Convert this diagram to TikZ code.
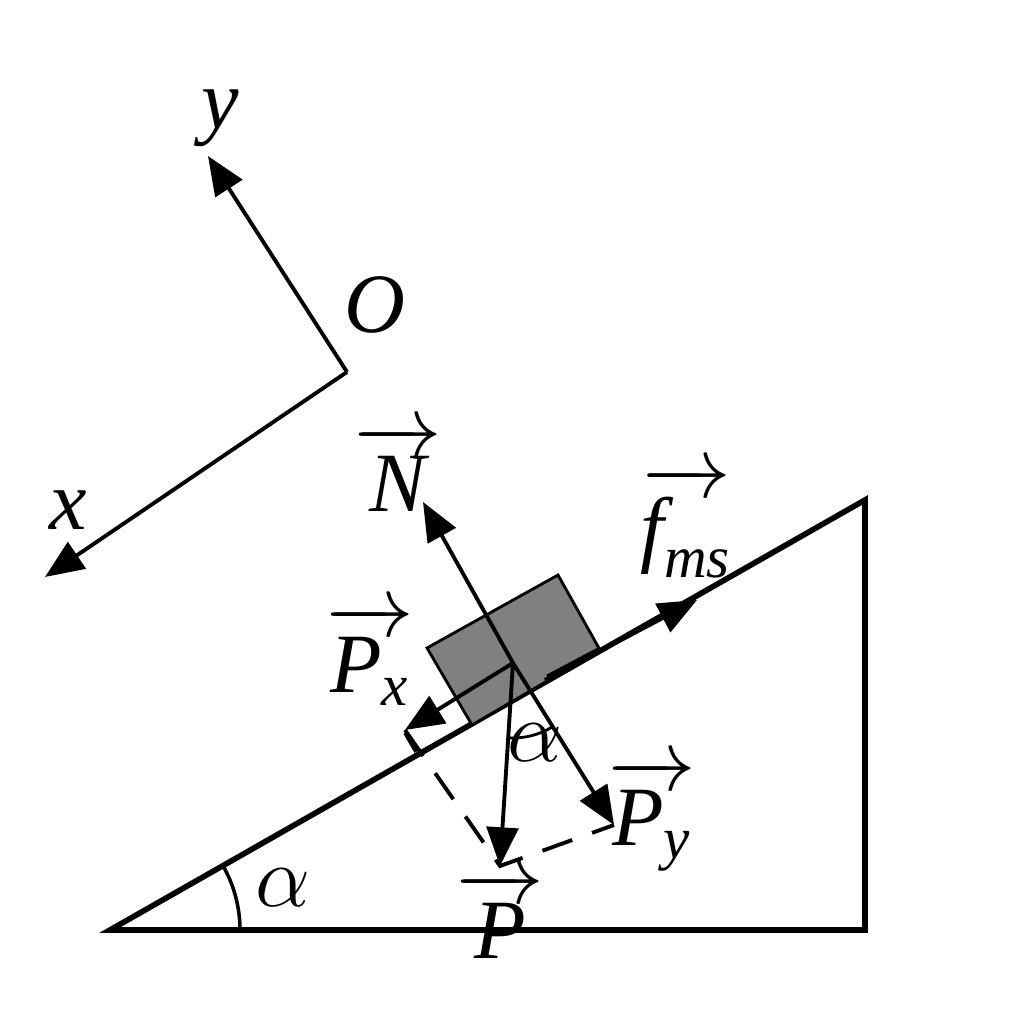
\documentclass[tikz,border=0pt]{standalone}
\usepackage{amsmath}
\usepackage{fontspec}
\setmainfont{Liberation Serif}
\usetikzlibrary{arrows.meta}
\newcommand{\iv}[1]{\textit{#1}}
\begin{document}
\begin{tikzpicture}[x=0.01cm,y=-0.01cm,
  vec/.style={line width=1.1pt,-{Triangle[length=11pt,width=9pt]}},
  lbl/.style={font=\itshape\fontsize{24}{24}\selectfont},
  dsh/.style={line width=1.1pt,dash pattern=on 9pt off 6pt}]
\useasboundingbox (0,0) rectangle (1024,1013);
% axes
\coordinate (O) at (347,372);
\coordinate (Y) at (208,156);
\coordinate (X) at (45,577);
\draw[vec] (O) -- (Y);
\draw[vec] (O) -- (X);
\node[lbl] (lo) at (375,305) {O};
\node[lbl] (ly) at (220,118) {y};
\node[lbl] (lx) at (68,510) {x};
% incline
\coordinate (A) at (110,930);
\coordinate (B) at (865,930);
\coordinate (C) at (865,500);
\draw[line width=1.6pt,line join=miter] (A) -- (B) -- (C) -- cycle;
\draw[line width=1pt] (240,930) arc[start angle=0,end angle=-29.7,radius=130];
\node[lbl] (la) at (283,888) {$\alpha$};
% block
\draw[fill=gray,line width=0.8pt] (427,648) -- (558,575) -- (600,650) -- (472,725) -- cycle;
\coordinate (G) at (513,663);
\coordinate (Nt) at (423,502);
\coordinate (Pxt) at (405,730);
\coordinate (Pyt) at (614,825);
\coordinate (Pt) at (500,866);
\coordinate (F0) at (545,680);
\coordinate (Ft) at (697,600);
\draw[dsh] (Pxt) -- (Pt) -- (Pyt);
\draw[vec] (G) -- (Nt);
\draw[vec] (G) -- (Pxt);
\draw[vec] (G) -- (Pyt);
\draw[vec] (G) -- (Pt);
\draw[vec] (F0) -- (Ft);
\draw[line width=0.8pt] (547,676) -- (598,649);
% right angle mark at Px tip
\draw[line width=1pt] (405,733) -- (416,752);
% alpha arc
\draw[line width=0.8pt] (G) ++(93.7:75) arc[start angle=93.7,end angle=58,radius=75];
\node[lbl] (la2) at (535,743) {$\alpha$};
% labels
\node[lbl] (lN) at (398,468) {$\overrightarrow{\iv{N}}$};
\node[lbl] (lPx) at (370,655) {$\overrightarrow{\iv{P}_{\iv{x}}}$};
\node[lbl] (lPy) at (652,815) {$\overrightarrow{\iv{P}_{\iv{y}}}$};
\node[lbl] (lP) at (500,915) {$\overrightarrow{\iv{P}}$};
\node[lbl] (lf) at (686,522) {$\overrightarrow{\iv{f}_{\iv{ms}}}$};
\end{tikzpicture}
\end{document}
